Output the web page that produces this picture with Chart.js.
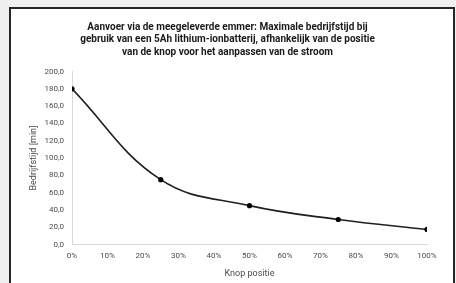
<!DOCTYPE html>
<html>
<head>
<meta charset="utf-8">
<script src="https://cdn.jsdelivr.net/npm/chart.js@4.4.1/dist/chart.umd.min.js"></script>
<style>
  body { margin: 0; background: #f0f0f0; width: 456px; height: 283px; overflow: hidden; position: relative; }
  #frame { position: absolute; left: 9px; top: 7px; width: 442px; height: 300px; border: 2px solid #262626; background: #fff; }
  #myChart { position: absolute; left: 0; top: 0; }
</style>
</head>
<body>
<div id="frame"></div>
<canvas id="myChart" width="456" height="283"></canvas>
<script>
// knob positions (%)
const positions = [0, 25, 50, 75, 100];
// operating time in minutes
const runtimes = [180, 75, 45, 29, 17.5];

const titleLines = [
  "Aanvoer via de meegeleverde emmer: Maximale bedrijfstijd bij",
  "gebruik van een 5Ah lithium-ionbatterij, afhankelijk van de positie",
  "van de knop voor het aanpassen van de stroom"
];
const xTitle = "Knop positie";
const yTitle = "Bedrijfstijd [min]";

const tickColor = "#4a4a4a";
const axisColor = "#d9d9d9";

let ctx = document.getElementById("myChart").getContext("2d");
let myChart = new Chart(ctx, {
  type: "line",
  data: {
    datasets: [
      {
        data: positions.map((p, i) => ({ x: p, y: runtimes[i] })),
        borderColor: "#1f1f1f",
        backgroundColor: "#000",
        borderWidth: 1.6,
        pointRadius: 2.6,
        pointBorderWidth: 0,
        tension: 0.4,
      },
    ],
  },
  options: {
    responsive: false,
    animation: false,
    layout: { padding: { left: 28, right: 29, top: 0, bottom: 4 } },
    plugins: {
      legend: { display: false },
      tooltip: { enabled: false },
      title: {
        display: true,
        text: titleLines,
        color: "#1a1a1a",
        font: { family: "Roboto", size: 10, weight: "bold", lineHeight: 1.25 },
        padding: { top: 21, bottom: 13 },
      },
    },
    scales: {
      x: {
        type: "linear",
        min: 0,
        max: 100,
        grid: { display: false, drawTicks: false },
        border: { display: true, color: axisColor, width: 1 },
        ticks: {
          stepSize: 10,
          padding: 7,
          color: tickColor,
          font: { family: "Roboto", size: 8 },
          callback: (v) => v + "%",
        },
        title: {
          display: true,
          text: xTitle,
          color: tickColor,
          font: { family: "Roboto", size: 9 },
          padding: { top: 0, bottom: 0 },
        },
      },
      y: {
        min: 0,
        max: 200,
        grid: { display: false, drawTicks: false },
        border: { display: true, color: axisColor, width: 1 },
        ticks: {
          stepSize: 20,
          padding: 8,
          color: tickColor,
          font: { family: "Roboto", size: 8 },
          callback: (v) => v.toFixed(1).replace(".", ","),
        },
        title: {
          display: true,
          text: yTitle,
          color: tickColor,
          font: { family: "Roboto", size: 9 },
          padding: { top: 0, bottom: 2 },
        },
        afterFit: (scale) => { scale.width = 44; },
      },
    },
  },
});
</script>
</body>
</html>
